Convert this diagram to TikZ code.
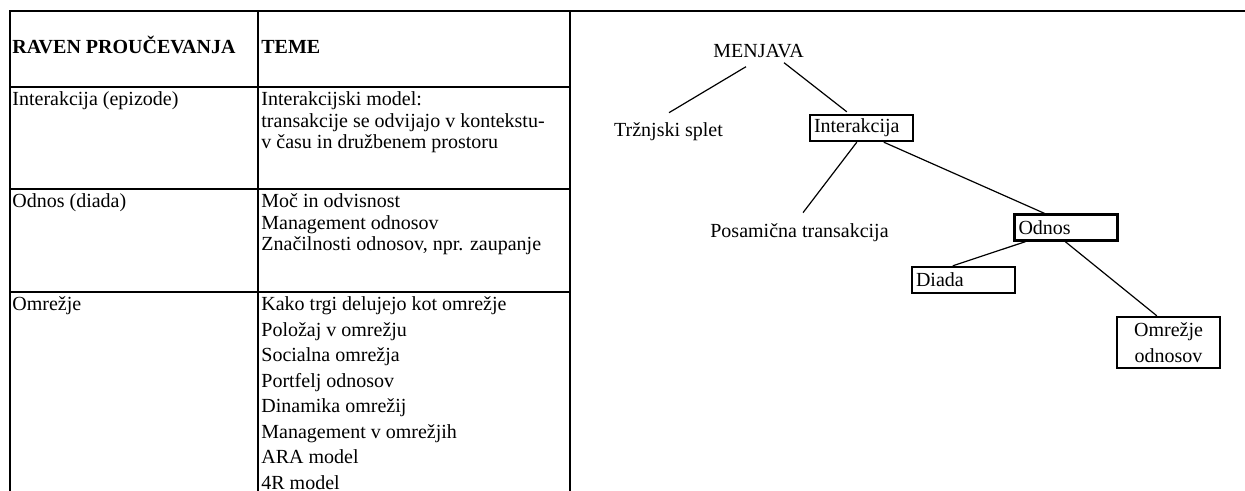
\documentclass[tikz,border=0pt]{standalone}
\usepackage{fontspec}
\setmainfont{Liberation Serif}
\usetikzlibrary{calc}

\begin{document}
\begin{tikzpicture}[x=0.5pt,y=-0.5pt,
  rule/.style={line width=1.25pt},
  link/.style={line width=0.6pt},
  cell/.style={anchor=north west,inner sep=0pt,align=left,font=\fontsize{10}{10.75}\selectfont},
  longcell/.style={cell,font=\fontsize{10}{12.75}\selectfont},
  head/.style={anchor=base west,inner sep=0pt,font=\fontsize{10}{12}\selectfont\bfseries},
  word/.style={anchor=base,inner sep=0pt,font=\fontsize{10}{12}\selectfont},
  levelbox/.style={draw,line width=1.2pt,inner xsep=2pt,inner ysep=0pt,
    text width=47.5pt,align=left,minimum height=13pt,font=\fontsize{10}{12}\selectfont}
]
\useasboundingbox (0,0) rectangle (1245,491);

% table frame and rules
\draw[rule] (1245,11) -- (10,11) -- (10,491);
\draw[rule] (258,11) -- (258,491);
\draw[rule] (570,11) -- (570,491);
\draw[rule] (10,87) -- (570,87);
\draw[rule] (10,189) -- (570,189);
\draw[rule] (10,292) -- (570,292);

% header row
\node[head] (h1) at (12,54) {RAVEN PROUČEVANJA};
\node[head] (h2) at (261,54) {TEME};

% row: interaction
\node[cell] (r1a) at (12,90.5) {\strut Interakcija (epizode)};
\node[cell] (r1b) at (261,90.5) {\strut Interakcijski model:\\transakcije se odvijajo v kontekstu-\\v času in družbenem prostoru};

% row: relationship
\node[cell] (r2a) at (12,192.5) {\strut Odnos (diada)};
\node[cell] (r2b) at (261,192.5) {\strut Moč in odvisnost\\Management odnosov\\Značilnosti odnosov, npr. zaupanje};

% row: network
\node[longcell] (r3a) at (12,292.5) {\strut Omrežje};
\node[longcell] (r3b) at (261,292.5) {\strut Kako trgi delujejo kot omrežje\\Položaj v omrežju\\Socialna omrežja\\Portfelj odnosov\\Dinamika omrežij\\Management v omrežjih\\ARA model\\4R model};

% tree of exchange levels
\node[word] (men) at (758.5,58) {MENJAVA};
\node[word] (trz) at (668.5,137) {Tržnjski splet};
\node[word] (pos) at (799.5,238) {Posamična transakcija};
\node[levelbox] (int) at (861.5,128) {Interakcija};
\node[levelbox] (odn) at (1066,227.5) {Odnos};
\node[levelbox] (dia) at (963.5,280) {Diada};
\node[levelbox,align=center,minimum height=25.5pt,font=\fontsize{10}{13}\selectfont] (omr) at (1168.5,342.5) {Omrežje\\odnosov};

\draw[link] ($(men.south)+(-12.5,8)$) -- ($(trz.north)+(0.5,-10)$);
\draw[link] ($(men.south)+(25.5,4)$) -- ($(int.north west)+(38,-2)$);
\draw[link] ($(int.south west)+(48,0)$) -- ($(pos.north)+(3.5,-11)$);
\draw[link] ($(int.south west)+(75,0)$) -- ($(odn.north west)+(31,0)$);
\draw[link] ($(odn.south west)+(12,0)$) -- ($(dia.north west)+(42,0)$);
\draw[link] ($(odn.south west)+(52,0)$) -- ($(omr.north west)+(41,0)$);
\end{tikzpicture}
\end{document}
